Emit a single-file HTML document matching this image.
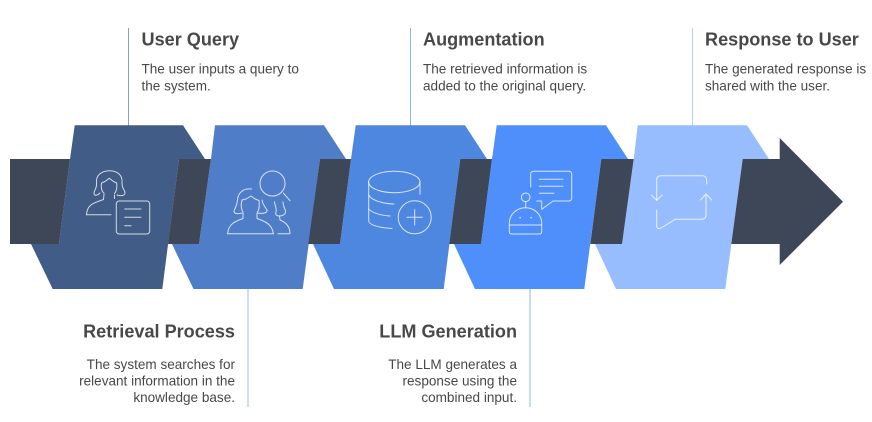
<!DOCTYPE html>
<html><head><meta charset="utf-8"><style>
html,body{margin:0;padding:0;background:#fff;width:872px;height:422px;overflow:hidden}
svg{display:block}
text{font-family:"Liberation Sans",Arial,sans-serif;fill:#484848}
.h{font-size:18.1px;font-weight:bold}
.b{font-size:13.55px}
.e{text-anchor:end}
.i{fill:none;stroke:#fff;stroke-opacity:.78;stroke-width:1;stroke-linecap:round;stroke-linejoin:round}
</style></head><body>
<svg width="872" height="422" viewBox="0 0 872 422" xmlns="http://www.w3.org/2000/svg">
<!-- leader lines -->
<g stroke-width="1">
<line x1="128.5" y1="28" x2="128.5" y2="126" stroke="#8fa0bd"/>
<line x1="248" y1="289" x2="248" y2="407" stroke="#a3bbe0"/>
<line x1="410.5" y1="28" x2="410.5" y2="126" stroke="#8fb0e6"/>
<line x1="530" y1="289" x2="530" y2="407" stroke="#8fb5f5"/>
<line x1="692.5" y1="28" x2="692.5" y2="126" stroke="#b5cfff"/>
</g>
<!-- shapes -->
<polygon fill="#97bdff" points="637.7,125.3 747,125.3 769,159 742.7,159 725.3,289 616,289 595,244 622,244 633.7,159"/>
<polygon fill="#4f8ffb" points="496.7,125.3 606,125.3 628,159 601.3,159 584.3,289 475,289 454,244 481,244 492,159"/>
<polygon fill="#4d87e0" points="355.7,125.3 465,125.3 487,159 460.3,159 443.7,289 334,289 313,244 340,244 351,159"/>
<polygon fill="#507dc8" points="215,125.3 324,125.3 346,159 320,159 302.7,289 193.5,289 172,244 199,244 211,159"/>
<polygon fill="#415c86" points="74.7,125.3 183,125.3 205,159 179,159 162.3,289 52.7,289 31,244 59,244 70,159"/>
<!-- dark band -->
<g fill="#3d4757">
<polygon points="10,159 70,159 59,244 10,244"/>
<polygon points="179,159 211,159 199,244 168,244"/>
<polygon points="320,159 351,159 340,244 308.3,244"/>
<polygon points="460.3,159 492,159 481,244 449.3,244"/>
<polygon points="601.3,159 633.7,159 622,244 590.3,244"/>
<polygon points="742.7,159 779.7,159 779.7,138 843,201.7 779.7,265 779.7,244 731.3,244"/>
</g>
<!-- icon 1 -->
<g class="i">
<rect x="116.3" y="201" width="33.4" height="33" rx="3"/>
<path d="M124.7,209H141M124.7,217.3H141M124.7,225.7H131"/>
<path d="M86.5,214.7H111"/>
<path d="M86.5,214.7C87,205 93,203 103.5,199.5L104,194"/>
<path d="M114.5,195L114.5,198.5"/>
<path d="M104,193C101,191 101,186 101.5,183L105,181.5L109.3,178.3L113.5,181.5L116.7,183C117,186 117,191 114.5,193.5"/>
<path d="M100,193C97,196 94,196 94,193C94,190 97,189 96.5,183C95.5,175 102,170.7 109.5,170.7C117,170.7 123,175 122,183C122,189 125,190 125,193C125,196 120,196 117,195"/>
</g>
<!-- icon 2 -->
<g class="i">
<circle cx="272.5" cy="183.5" r="12.5"/>
<path d="M283.3,193L290,200.7"/>
<path d="M227.7,233.7H273.3"/>
<path d="M227.7,233.7C228,224 236,221 243,218.5L243,213M257,213L257,218.5C264,221 272.5,224 273.3,233.7"/>
<path d="M243,212C241,209 241,204 242,200L246,199L251,196L255,199L259,200.5C259.5,205 259.5,209 257.5,212"/>
<path d="M251.7,189C243,188 238,193 237.5,200C237,206 235,208 234,211C233.5,214 238,214 242,213"/>
<path d="M258,213C262,214 268,213 267,210C264.5,206 262.5,204 262,200"/>
<path d="M274.5,202C275,206 277,209 276,212C275,215 277,216 279,216C283,216 286,214 285.5,211C285,209 283,206 283,202"/>
<path d="M278,233.7H290C290,226 285,222 280,220L279.5,216"/>
</g>
<!-- icon 3 -->
<g class="i">
<ellipse cx="394.3" cy="182" rx="25.7" ry="10.7"/>
<path d="M420,182V194.3"/>
<path d="M368.7,182V221C369,225 380,228 392,228.5"/>
<path d="M368.7,195C371,200 382,203.5 394,204"/>
<path d="M368.7,209C371,212 380,215.5 390,216"/>
<circle cx="414.7" cy="217.3" r="16.5"/>
<path d="M407,217.3H422.4M414.7,209.6V225"/>
</g>
<!-- icon 4 -->
<g class="i">
<path d="M530.7,187V174C530.7,172 532,171.3 534,171.3H568.5C570.5,171.3 571.7,172.5 571.7,174.5V198C571.7,200 570.5,201 568.5,201H553L541.7,209.3V201H536.7"/>
<path d="M539.3,179.3H563M539.3,186.3H563M539.3,193.3H554"/>
<circle cx="525.7" cy="197.3" r="4.3"/>
<path d="M525.7,201.6V207.7"/>
<path d="M509.3,225V223.5C509.3,214.5 516.5,207.7 525.5,207.7C534.5,207.7 541.7,214.5 541.7,223.5V225Z"/>
<path d="M509.3,225V231.5C509.3,233 510.3,234 512,234H539C540.7,234 541.7,233 541.7,231.5V225"/>
<path d="M520,217.7h.3M531,217.7h.3" stroke-width="1.4"/>
</g>
<!-- icon 5 -->
<g class="i">
<path d="M656.7,200V179.7C656.7,177 658.5,175.7 661,175.7H702.5C705,175.7 706.7,177.5 706.7,180V184"/>
<path d="M651.3,195L656.7,200.3L662.3,195"/>
<path d="M656.7,210V226C656.7,228.5 659,229 661,228L675.3,219.3H701C704.5,219.3 706,217.5 706,215V194.5"/>
<path d="M700.5,200L706,194L711.8,200"/>
</g>
<!-- labels -->
<text class="h" x="141.5" y="45.5">User Query</text>
<text class="b" x="141.5" y="73.5">The user inputs a query to</text>
<text class="b" x="141.5" y="90.5">the system.</text>
<text class="h" x="423" y="45.5">Augmentation</text>
<text class="b" x="423" y="73.5">The retrieved information is</text>
<text class="b" x="423" y="90.5">added to the original query.</text>
<text class="h" x="705" y="45.5">Response to User</text>
<text class="b" x="705" y="73.5">The generated response is</text>
<text class="b" x="705" y="90.5">shared with the user.</text>
<text class="h e" x="235" y="337.5">Retrieval Process</text>
<text class="b e" x="235" y="369">The system searches for</text>
<text class="b e" x="235" y="385.5">relevant information in the</text>
<text class="b e" x="235" y="402">knowledge base.</text>
<text class="h e" x="517" y="337.5">LLM Generation</text>
<text class="b e" x="517" y="369">The LLM generates a</text>
<text class="b e" x="517" y="385.5">response using the</text>
<text class="b e" x="517" y="402">combined input.</text>
</svg>
</body></html>
